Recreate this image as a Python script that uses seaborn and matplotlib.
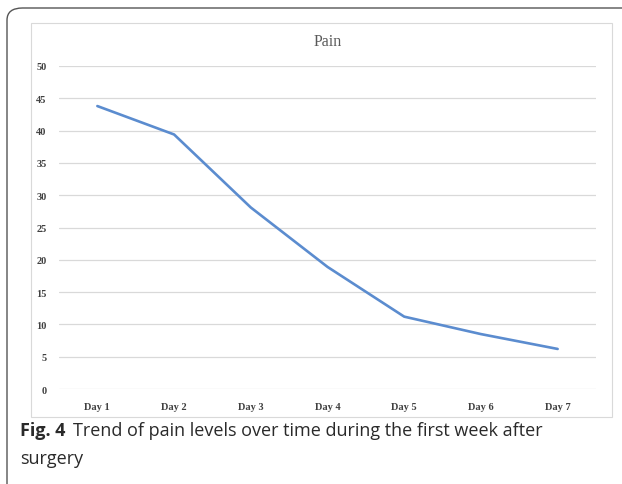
import matplotlib
matplotlib.use("Agg")
import matplotlib.pyplot as plt
import seaborn as sns
import pandas as pd
from matplotlib.patches import FancyBboxPatch, Rectangle

days = ["Day 1", "Day 2", "Day 3", "Day 4", "Day 5", "Day 6", "Day 7"]
pain = [43.8, 39.4, 28.1, 18.9, 11.2, 8.5, 6.2]
yticks = [0, 5, 10, 15, 20, 25, 30, 35, 40, 45, 50]

df = pd.DataFrame({"day": days, "pain": pain, "idx": range(len(days))})

sns.set_theme(style="white")
W, H = 622, 485
fig = plt.figure(figsize=(W / 100, H / 100), dpi=100)

def fx(px):
    return px / W

def fy(py):
    return 1 - py / H

# outer rounded border (extends past right and bottom edges)
outer = FancyBboxPatch((fx(7), fy(520)), fx(700) - fx(7), fy(9) - fy(520),
                       boxstyle="round,pad=0,rounding_size=0.025",
                       transform=fig.transFigure, fill=False,
                       edgecolor="#555555", linewidth=1.0, clip_on=False)
fig.patches.append(outer)

# inner chart frame
inner = Rectangle((fx(31), fy(418)), fx(612) - fx(31), fy(24) - fy(418),
                  transform=fig.transFigure, fill=False,
                  edgecolor="#d9d9d9", linewidth=0.8)
fig.patches.append(inner)

ax = fig.add_axes([fx(59), fy(390), fx(596) - fx(59), fy(67) - fy(390)])
ax.set_facecolor("none")

sns.lineplot(data=df, x="idx", y="pain", ax=ax, color="#5b8ccf",
             linewidth=1.9, solid_capstyle="round")

ax.set_xlim(-0.5, len(days) - 0.5)
ax.set_ylim(0, 50)
ax.set_yticks(yticks)
ax.set_yticklabels([str(v) for v in yticks])
ax.set_xticks(range(len(days)))
ax.set_xticklabels(days)
ax.grid(axis="y", color="#d9d9d9", linewidth=0.9)
ax.grid(axis="x", visible=False)
for s in ax.spines.values():
    s.set_visible(False)
ax.tick_params(axis="both", length=0, labelsize=7.5, labelcolor="#404040")
ax.tick_params(axis="y", pad=9)
ax.tick_params(axis="x", pad=9)
for lab in ax.get_xticklabels() + ax.get_yticklabels():
    lab.set_fontfamily("Liberation Serif")
    lab.set_fontweight("bold")
ax.set_xlabel("")
ax.set_ylabel("")
ax.set_title("Pain", fontfamily="Liberation Serif", fontsize=11.5,
             color="#595959", pad=0, y=(67 - 42) / (390 - 67) + 1.0,
             va="center")

# caption
t1 = fig.text(fx(20), fy(431), "Fig. 4", fontfamily="Open Sans",
              fontweight="bold", fontsize=13, color="#2a2a2a", va="center")
fig.canvas.draw()
bb = t1.get_window_extent()
fig.text(bb.x1 / W + fx(8), fy(431),
         "Trend of pain levels over time during the first week after",
         fontfamily="Open Sans", fontsize=13, color="#2a2a2a", va="center")
fig.text(fx(20), fy(459), "surgery", fontfamily="Open Sans", fontsize=13,
         color="#2a2a2a", va="center")

fig.savefig("out.png", dpi=100)
